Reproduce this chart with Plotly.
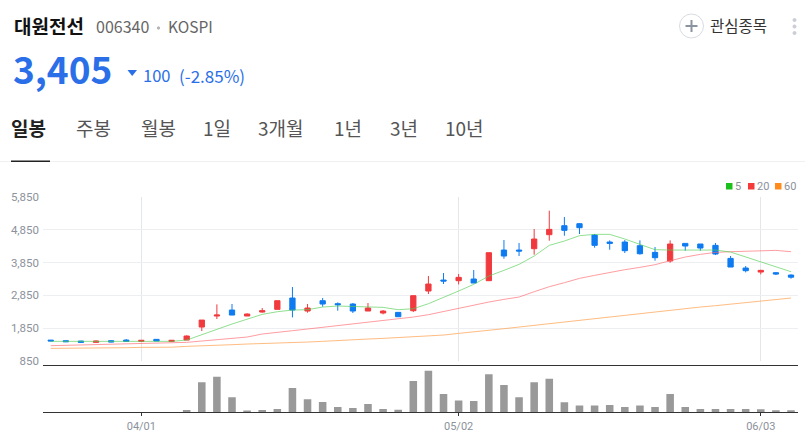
import plotly.graph_objects as go

W, H = 805, 437

# trading days, 2024-03-22 .. 2024-06-05
dates = ["03/22", "03/25", "03/26", "03/27", "03/28", "03/29",
         "04/01", "04/02", "04/03", "04/04", "04/05", "04/08", "04/09", "04/11", "04/12",
         "04/15", "04/16", "04/17", "04/18", "04/19", "04/22", "04/23", "04/24", "04/25", "04/26",
         "04/29", "04/30", "05/02", "05/03", "05/07", "05/08", "05/09", "05/10",
         "05/13", "05/14", "05/16", "05/17", "05/20", "05/21", "05/22", "05/23", "05/24",
         "05/27", "05/28", "05/29", "05/30", "05/31", "06/03", "06/04", "06/05"]

opens = [1480, 1462, 1452, 1411, 1462, 1482, 1441, 1503, 1441, 1482,
         1880, 2217, 2400, 2217, 2339, 2421, 2768, 2370, 2686, 2594,
         2584, 2370, 2309, 2329, 2380, 2982, 3318, 3298, 3349, 3298,
         4236, 4236, 4277, 4706, 4981, 5042, 4695, 4481, 4481, 4369,
         4165, 3900, 4440, 4420, 4379, 3981, 3686, 3563, 3543, 3471]
highs = [1485, 1465, 1455, 1472, 1482, 1513, 1482, 1510, 1478, 1625,
         2094, 2574, 2584, 2298, 2462, 2686, 3104, 2584, 2768, 2635,
         2615, 2615, 2400, 2340, 2839, 3441, 3533, 3502, 3624, 4155,
         4542, 4451, 4879, 5440, 5246, 5063, 4726, 4532, 4542, 4532,
         4328, 4532, 4440, 4420, 4451, 4053, 3747, 3630, 3563, 3492]
lows = [1450, 1428, 1408, 1405, 1415, 1435, 1420, 1450, 1421, 1482,
        1758, 2125, 2247, 2217, 2319, 2421, 2176, 2319, 2502, 2380,
        2309, 2370, 2268, 2196, 2339, 2890, 3196, 3186, 3227, 3298,
        3971, 4053, 4094, 4522, 4675, 4726, 4308, 4247, 4145, 4094,
        3910, 3849, 4216, 4216, 4083, 3716, 3553, 3492, 3471, 3359]
closes = [1455, 1431, 1411, 1452, 1421, 1441, 1472, 1452, 1472, 1605,
          2094, 2247, 2247, 2278, 2380, 2686, 2400, 2462, 2584, 2564,
          2370, 2462, 2370, 2196, 2839, 3196, 3288, 3400, 3227, 4155,
          4053, 4206, 4573, 4869, 4838, 4920, 4379, 4440, 4216, 4124,
          4002, 4420, 4359, 4298, 4114, 3716, 3604, 3614, 3502, 3405]

ma5 = [1442, 1442, 1442, 1442, 1442, 1442, 1442, 1442, 1442, 1482,
       1635, 1809, 1972, 2125, 2268, 2349, 2400, 2411, 2492, 2523,
       2513, 2492, 2482, 2411, 2441, 2594, 2778, 2982, 3186, 3441,
       3614, 3798, 4053, 4379, 4512, 4675, 4716, 4716, 4573, 4420,
       4247, 4236, 4236, 4236, 4236, 4175, 4022, 3859, 3716, 3573]
ma20 = [1309, 1319, 1329, 1335, 1350, 1360, 1370, 1380, 1391, 1411,
        1452, 1493, 1533, 1574, 1666, 1707, 1768, 1819, 1870, 1931,
        1982, 2033, 2074, 2115, 2186, 2258, 2360, 2462, 2543, 2645,
        2727, 2798, 2961, 3114, 3237, 3369, 3461, 3553, 3635, 3706,
        3788, 3910, 4022, 4104, 4165, 4185, 4196, 4206, 4226, 4185]
ma60 = [1227, 1227, 1227, 1227, 1238, 1248, 1258, 1258, 1263, 1289,
        1299, 1319, 1340, 1360, 1370, 1391, 1406, 1421, 1442, 1472,
        1493, 1513, 1533, 1554, 1574, 1605, 1635, 1686, 1727, 1768,
        1829, 1880, 1931, 1982, 2033, 2084, 2135, 2186, 2237, 2298,
        2360, 2400, 2441, 2492, 2533, 2584, 2635, 2686, 2727, 2768]

volumes = [0, 0, 0, 0, 0, 0, 0, 0, 0, 7,
           90, 106, 45, 5, 7, 10, 73, 39, 31, 16,
           13, 25, 10, 8, 94, 124, 55, 35, 34, 114,
           82, 45, 90, 100, 30, 20, 20, 22, 16, 20,
           16, 55, 16, 10, 10, 10, 10, 9, 6, 6]

price_ticks = [850, 1850, 2850, 3850, 4850, 5850]
date_ticks = ["04/01", "05/02", "06/03"]

RED = "#f03a3e"
BLUE = "#0f7bf0"
GRID = "#eceef1"
TICK = "#8b929c"
KR = "Noto Sans CJK KR"


def px(x):
    return x / W


def py(y):
    return 1 - y / H


fig = go.Figure()

for vals, col in [(ma60, "#ff9a40"), (ma20, "#ff6a70"), (ma5, "#55d055")]:
    fig.add_trace(go.Scatter(x=dates, y=vals, mode="lines", opacity=0.65,
                             line=dict(color=col, width=1), xaxis="x", yaxis="y"))

fig.add_trace(go.Candlestick(x=dates, open=opens, high=highs, low=lows, close=closes,
                             increasing=dict(line=dict(color=RED, width=1), fillcolor=RED),
                             decreasing=dict(line=dict(color=BLUE, width=1), fillcolor=BLUE),
                             whiskerwidth=0, xaxis="x", yaxis="y"))

fig.add_trace(go.Bar(x=dates, y=volumes, marker=dict(color="#999999", line_width=0),
                     xaxis="x2", yaxis="y2"))

x_range = [-0.51, 49.43]
fig.update_layout(
    width=W, height=H, margin=dict(l=0, r=0, t=0, b=0),
    paper_bgcolor="white", plot_bgcolor="white",
    showlegend=False, bargap=0.5, boxgap=0.5,
    font=dict(family=KR),
    xaxis=dict(domain=[px(43), px(797.5)], anchor="y", type="category", range=x_range,
               categoryorder="array", categoryarray=dates, automargin=False,
               tickmode="array", tickvals=date_ticks, showticklabels=False, ticks="",
               showgrid=True, gridcolor="#e4e6ea", gridwidth=1,
               rangeslider=dict(visible=False), zeroline=False),
    yaxis=dict(domain=[py(360.7), py(197.3)], anchor="x", range=[850, 5850],
               tickmode="array", tickvals=price_ticks, tickformat=",", automargin=False,
               showgrid=True, gridcolor=GRID, gridwidth=1, zeroline=False,
               ticks="", ticklabelstandoff=3,
               tickfont=dict(size=11.5, color=TICK, family="Roboto")),
    xaxis2=dict(domain=[px(43), px(797.5)], anchor="y2", type="category", range=x_range,
                categoryorder="array", categoryarray=dates, automargin=False,
                tickmode="array", tickvals=date_ticks, showgrid=False,
                showline=True, mirror=True, linecolor="#333333", linewidth=1,
                ticks="outside", ticklen=3, tickcolor="#333333",
                tickfont=dict(size=11, color=TICK, family="Roboto")),
    yaxis2=dict(domain=[py(412.3), py(365.5)], anchor="x2", range=[0, 140], automargin=False,
                showticklabels=False, showgrid=False, zeroline=False, ticks=""),
)

# header texts: text, x, y centre, size, colour, bold
header = [
    ("대원전선", 13, 25, 19, "#111111", True),
    ("006340", 95, 26.5, 16, "#666666", False),
    ("KOSPI", 167, 26.5, 15.5, "#666666", False),
    ("3,405", 12, 67.5, 37, "#2a6fe8", True),
    ("100", 142, 75, 16.5, "#2a6fe8", False),
    ("(-2.85%)", 178, 75, 17, "#2a6fe8", False),
    ("일봉", 10, 127.5, 19, "#222222", True),
    ("주봉", 74.5, 127.5, 19, "#555555", False),
    ("월봉", 139.5, 127.5, 19, "#555555", False),
    ("1일", 202.5, 127.5, 19, "#555555", False),
    ("3개월", 256.5, 127.5, 19, "#555555", False),
    ("1년", 332.5, 127.5, 19, "#555555", False),
    ("3년", 388.5, 127.5, 19, "#555555", False),
    ("10년", 443.5, 127.5, 19, "#555555", False),
    ("관심종목", 709, 25, 15.5, "#333333", False),
]
annotations = []
for text, x, y, size, col, bold in header:
    annotations.append(dict(text=f"<b>{text}</b>" if bold else text, x=px(x), y=py(y),
                            xref="paper", yref="paper", xanchor="left", yanchor="middle",
                            showarrow=False, borderpad=0,
                            font=dict(size=size, color=col, family=KR)))

# legend of the moving averages
legend_items = [("5", 729, "#1cc01c"), ("20", 751, "#f53a3a"), ("60", 778, "#ff8c1a")]
shapes = []
for label, x, col in legend_items:
    shapes.append(dict(type="rect", xref="paper", yref="paper", x0=px(x - 3), x1=px(x + 3.5),
                       y0=py(189.5), y1=py(183), fillcolor=col, line_width=0))
    annotations.append(dict(text=label, x=px(x + 5), y=py(186.5), xref="paper", yref="paper",
                            xanchor="left", yanchor="middle", showarrow=False, borderpad=0,
                            font=dict(size=11, color=TICK, family="Roboto")))


def rect(x0, y0, x1, y1, col):
    return dict(type="rect", xref="paper", yref="paper", x0=px(x0), x1=px(x1),
                y0=py(y1), y1=py(y0), fillcolor=col, line_width=0)


def circle(cx, cy, r, fill, line_col=None):
    return dict(type="circle", xref="paper", yref="paper", x0=px(cx - r), x1=px(cx + r),
                y0=py(cy + r), y1=py(cy - r), fillcolor=fill,
                line=dict(color=line_col or fill, width=1))


shapes += [
    rect(0, 161, 805, 162, "#f0f0f0"),
    rect(11, 160.5, 50, 162, "#222222"),
    circle(691.5, 26, 12, "white", "#d8dbe2"),
    rect(685.5, 25, 697.5, 27, "#8a93a0"),
    rect(690.5, 20, 692.5, 32, "#8a93a0"),
    circle(794.5, 20, 1.5, "#c9cdd4"),
    circle(794.5, 26.5, 1.5, "#c9cdd4"),
    circle(794.5, 33, 1.5, "#c9cdd4"),
    circle(158.5, 28, 1.2, "#b5b5b5"),
    dict(type="path", xref="paper", yref="paper",
         path=f"M {px(127.5)} {py(70)} L {px(137)} {py(70)} L {px(132.2)} {py(76)} Z",
         fillcolor="#2a6fe8", line_width=0),
]

fig.update_layout(annotations=annotations, shapes=shapes)
fig.write_html("out.html", config={"displayModeBar": False},
               post_script="document.body.style.margin = '0';")
